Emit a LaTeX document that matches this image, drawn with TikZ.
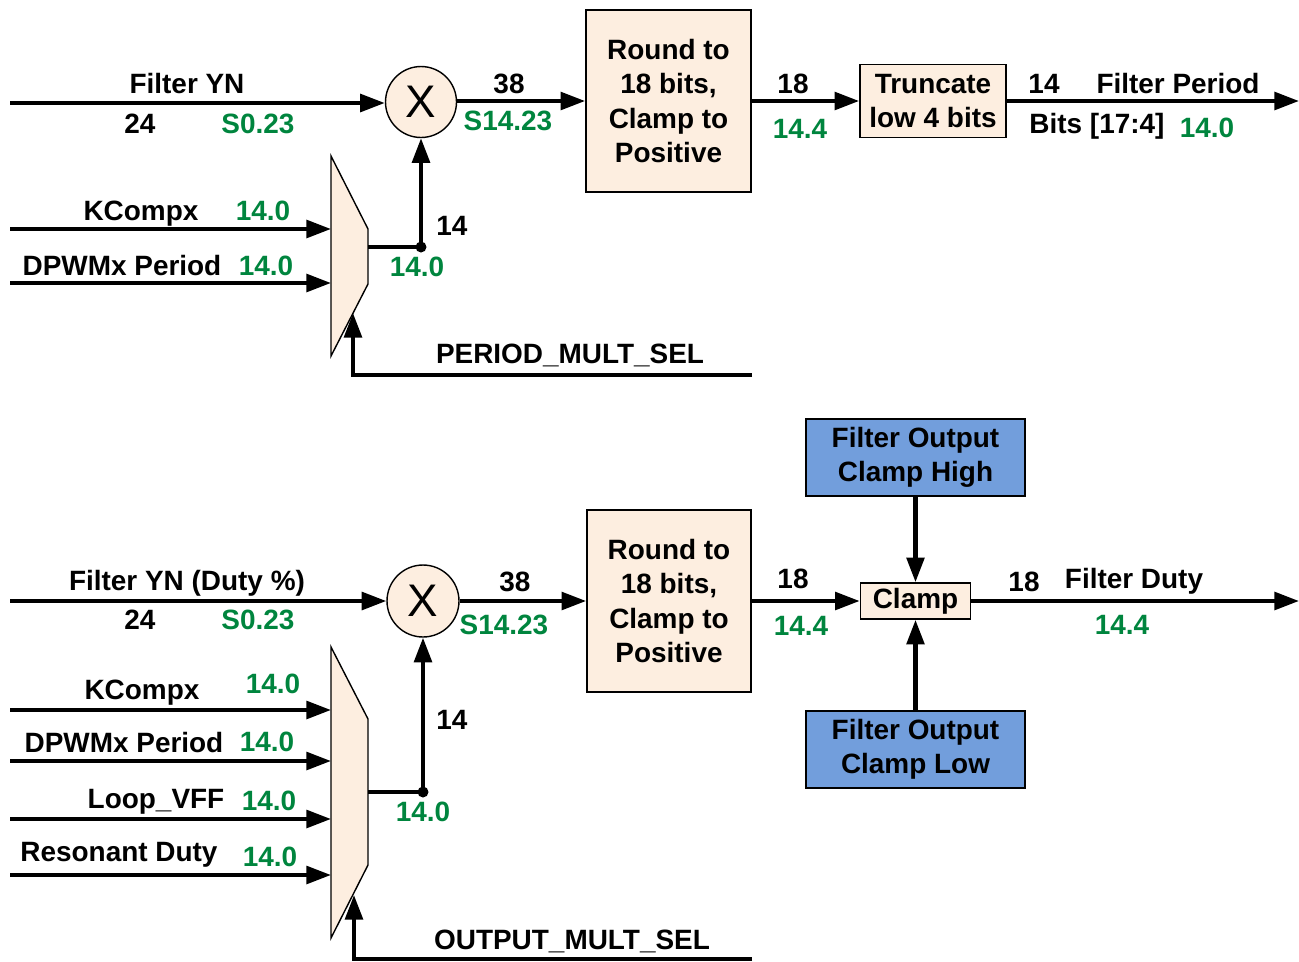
\documentclass[tikz,border=0pt]{standalone}
\usepackage{fontspec}
\setmainfont{Liberation Sans}
\usetikzlibrary{arrows.meta,calc}
\definecolor{peach}{RGB}{253,238,224}
\definecolor{clampblue}{RGB}{114,158,220}
\definecolor{fmtgreen}{RGB}{0,133,62}

\begin{document}
\begin{tikzpicture}[x=0.02cm,y=-0.02cm,font=\fontsize{15.9}{19.4}\selectfont\bfseries,
    box/.style={draw,line width=1pt,fill=peach,align=center,inner sep=0pt},
    mult/.style={draw,circle,line width=0.8pt,fill=peach,minimum size=1.42cm,inner sep=0pt,
      font=\fontsize{26}{26}\selectfont},
    arj/.style={line width=2.3pt,-{Triangle[length=14pt,width=10pt]}},
    wire/.style={line width=2.3pt},
    dot/.style={circle,fill,inner sep=0pt,minimum size=0.22cm},
    lbl/.style={anchor=base,inner sep=0pt},
    fmt/.style={lbl,text=fmtgreen}]
  \useasboundingbox (0,0) rectangle (1299,961);

  % period path
  \node(mult top)[mult] at (421,102) {X};
  \node(round top)[box,minimum width=3.3cm,minimum height=3.64cm] at (668.5,101) {Round to\\18 bits,\\Clamp to\\Positive};
  \node(trunc)[box,minimum width=2.92cm,minimum height=1.46cm] at (933,101) {Truncate\\low 4 bits};
  \coordinate (yn top) at (10,103);
  \coordinate (period out) at (1299,101);
  \draw[arj] (yn top) -- (yn top -| mult top.west);
  \draw[arj] (mult top.east |- round top) -- (round top);
  \draw[arj] (round top) -- (trunc);
  \draw[arj] (trunc) -- (period out);

  \draw[fill=peach,line width=0.8pt] (331,156) -- (368,229) -- (368,284) -- (331,356) -- cycle;
  \coordinate (kcomp top) at (10,229);
  \coordinate (kcomp top in) at (331,229);
  \coordinate (dpwm top) at (10,283);
  \coordinate (dpwm top in) at (331,283);
  \draw[arj] (kcomp top) -- (kcomp top in);
  \draw[arj] (dpwm top) -- (dpwm top in);
  \coordinate (mux top out) at (368,247);
  \node(dot top)[dot] at (421,247) {};
  \draw[wire] (mux top out) -- (dot top.center);
  \draw[arj] (dot top.center) -- (mult top);
  \coordinate (sel top) at (752,375);
  \coordinate (sel top tip) at (353,313);
  \draw[arj] (sel top) -| (sel top tip);

  \node(yn top lbl)[lbl] at (187,93) {Filter YN};
  \node(yn top w)[lbl] at (140,133) {24};
  \node(yn top f)[fmt] at (258,133) {S0.23};
  \node(prod top w)[lbl] at (509,93) {38};
  \node(prod top f)[fmt] at (508,130) {S14.23};
  \node(rnd top w)[lbl] at (793,93) {18};
  \node(rnd top f)[fmt] at (800,138) {14.4};
  \node(per w)[lbl] at (1044,93) {14};
  \node(per lbl)[lbl] at (1178,93) {Filter Period};
  \node(per bits)[lbl] at (1097,133) {Bits [17:4]};
  \node(per f)[fmt] at (1207,137) {14.0};
  \node(kcomp top lbl)[lbl] at (141,220) {KCompx};
  \node(kcomp top f)[fmt] at (263,220) {14.0};
  \node(dpwm top lbl)[lbl] at (122,275) {DPWMx Period};
  \node(dpwm top f)[fmt] at (266,275) {14.0};
  \node(mux top w)[lbl] at (452,235) {14};
  \node(mux top f)[fmt] at (417,276) {14.0};
  \node(sel top lbl)[lbl] at (570,363) {PERIOD\_MULT\_SEL};

  % duty path
  \node(mult bot)[mult,minimum size=1.44cm] at (423,601) {X};
  \node(round bot)[box,minimum width=3.28cm,minimum height=3.64cm] at (669,601) {Round to\\18 bits,\\Clamp to\\Positive};
  \node(clamp)[box,minimum width=2.2cm,minimum height=0.72cm] at (915.5,601) {Clamp};
  \node(clamp high)[box,fill=clampblue,minimum width=4.38cm,minimum height=1.54cm] at (915.5,457.5) {Filter Output\\Clamp High};
  \node(clamp low)[box,fill=clampblue,minimum width=4.38cm,minimum height=1.54cm] at (915.5,749.5) {Filter Output\\Clamp Low};
  \coordinate (yn bot) at (10,601);
  \coordinate (duty out) at (1299,601);
  \draw[arj] (yn bot) -- (mult bot);
  \draw[arj] (mult bot) -- (round bot);
  \draw[arj] (round bot) -- (clamp);
  \draw[arj] (clamp) -- (duty out);
  \draw[arj] (clamp high) -- (clamp);
  \draw[arj] (clamp low) -- (clamp);

  \draw[fill=peach,line width=0.8pt] (331,647) -- (368,719) -- (368,865) -- (331,938) -- cycle;
  \coordinate (kcomp bot) at (10,710);
  \coordinate (kcomp bot in) at (331,710);
  \coordinate (dpwm bot) at (10,761);
  \coordinate (dpwm bot in) at (331,761);
  \coordinate (vff) at (10,819);
  \coordinate (vff in) at (331,819);
  \coordinate (res) at (10,875);
  \coordinate (res in) at (331,875);
  \draw[arj] (kcomp bot) -- (kcomp bot in);
  \draw[arj] (dpwm bot) -- (dpwm bot in);
  \draw[arj] (vff) -- (vff in);
  \draw[arj] (res) -- (res in);
  \coordinate (mux bot out) at (368,792);
  \node(dot bot)[dot] at (423,792) {};
  \draw[wire] (mux bot out) -- (dot bot.center);
  \draw[arj] (dot bot.center) -- (mult bot);
  \coordinate (sel bot) at (752,959);
  \coordinate (sel bot tip) at (354,895);
  \draw[arj] (sel bot) -| (sel bot tip);

  \node(yn bot lbl)[lbl] at (187,590) {Filter YN (Duty \%)};
  \node(yn bot w)[lbl] at (140,629) {24};
  \node(yn bot f)[fmt] at (258,629) {S0.23};
  \node(prod bot w)[lbl] at (515,591) {38};
  \node(prod bot f)[fmt] at (504,634) {S14.23};
  \node(rnd bot w)[lbl] at (793,588) {18};
  \node(rnd bot f)[fmt] at (801,635) {14.4};
  \node(duty w)[lbl] at (1024,591) {18};
  \node(duty lbl)[lbl] at (1134,588) {Filter Duty};
  \node(duty f)[fmt] at (1122,634) {14.4};
  \node(kcomp bot lbl)[lbl] at (142,699) {KCompx};
  \node(kcomp bot f)[fmt] at (273,693) {14.0};
  \node(dpwm bot lbl)[lbl] at (124,752) {DPWMx Period};
  \node(dpwm bot f)[fmt] at (267,751) {14.0};
  \node(vff lbl)[lbl] at (156,808) {Loop\_VFF};
  \node(vff f)[fmt] at (269,810) {14.0};
  \node(res lbl)[lbl] at (119,861) {Resonant Duty};
  \node(res f)[fmt] at (270,866) {14.0};
  \node(mux bot w)[lbl] at (452,729) {14};
  \node(mux bot f)[fmt] at (423,821) {14.0};
  \node(sel bot lbl)[lbl] at (572,949) {OUTPUT\_MULT\_SEL};
\end{tikzpicture}
\end{document}
